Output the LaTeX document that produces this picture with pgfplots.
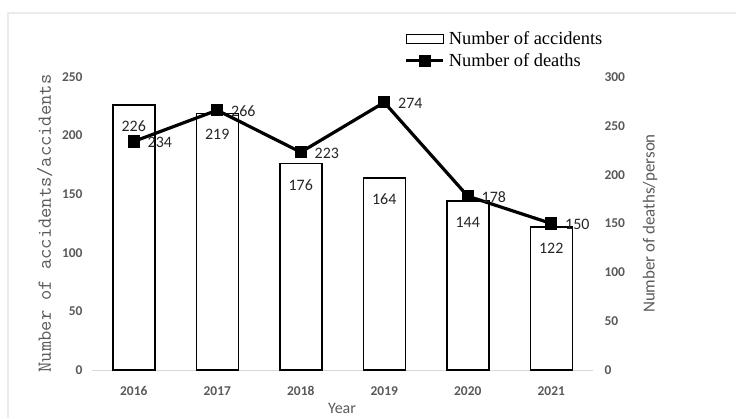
\documentclass[border=0pt]{standalone}
\usepackage{pgfplots}
\pgfplotsset{compat=1.18}
\usepackage{fontspec}
\setmainfont{Carlito}
\newfontfamily\legfont{Liberation Serif}
\definecolor{tickgray}{HTML}{595959}
\begin{document}
\begin{tikzpicture}[x=1bp,y=1bp]
\useasboundingbox (0,0) rectangle (736,418);
\draw[black!8, line width=1.5bp] (8,0) -- (8,405) -- (736,405);
\begin{axis}[
  at={(92bp,48bp)}, anchor=south west, scale only axis,
  width=501bp, height=293bp,
  xmin=-0.5, xmax=5.5, ymin=0, ymax=250,
  axis x line*=bottom, axis y line*=left,
  x axis line style={draw=black!15, line width=1bp, -},
  y axis line style={draw=none},
  major tick length=0pt, tick style={draw=none},
  xtick={0,1,2,3,4,5}, xticklabels={2016,2017,2018,2019,2020,2021},
  ytick={0,50,100,150,200,250},
  /pgf/number format/assume math mode=true,
  ticklabel style={font=\bfseries\fontsize{13.5}{15}\selectfont, text=tickgray},
  xticklabel style={yshift=-13bp},
  yticklabel style={xshift=-6bp},
  ylabel={Number of accidents/accidents},
  ylabel style={at={(axis description cs:-0.094,0.5)}, anchor=center, rotate=0,
    font=\ttfamily\fontsize{20}{22}\selectfont, text=tickgray},
  xlabel={Year},
  xlabel style={at={(axis description cs:0.499,-0.13)}, anchor=center,
    font=\fontsize{16}{18}\selectfont, text=tickgray},
  clip=false,
]
\addplot[ybar, bar width=42bp, fill=white, draw=black, line width=1.5bp,
  nodes near coords,
  nodes near coords style={font=\fontsize{16}{18}\selectfont, text=black!85, anchor=center, yshift=-21bp}]
  coordinates {(0,226) (1,219) (2,176) (3,164) (4,144) (5,122)};
\end{axis}
\begin{axis}[
  at={(92bp,48bp)}, anchor=south west, scale only axis,
  width=501bp, height=293bp,
  xmin=-0.5, xmax=5.5, ymin=0, ymax=300,
  axis y line*=right, axis x line=none,
  y axis line style={draw=none},
  major tick length=0pt, tick style={draw=none},
  ytick={0,50,100,150,200,250,300},
  /pgf/number format/assume math mode=true,
  ticklabel style={font=\bfseries\fontsize{13.5}{15}\selectfont, text=tickgray},
  yticklabel style={xshift=8bp},
  ylabel={Number of deaths/person},
  ylabel style={at={(axis description cs:1.114,0.5)}, anchor=center, rotate=0,
    font=\fontsize{17}{19}\selectfont, text=tickgray},
  legend style={at={(rel axis cs:0.624,1.158)}, anchor=north west, draw=none, fill=none,
    font=\legfont\fontsize{18.5}{21}\selectfont, row sep=5bp, inner sep=0pt,
    nodes={inner xsep=4bp, inner ysep=1bp}},
  legend cell align=left,
  clip=false,
]
\addlegendimage{legend image code/.code={\draw[black, line width=1.5bp, fill=white] (0bp,-4.5bp) rectangle (37bp,4.5bp);}}
\addlegendentry{Number of accidents}
\addplot[black, line width=3.2bp, mark=square*, mark size=4.5bp, mark options={solid},
  legend image code/.code={\draw[black, line width=3bp] (0bp,0bp) -- (37bp,0bp); \fill[black] (14bp,-4.5bp) rectangle (23bp,4.5bp);},
  nodes near coords,
  nodes near coords style={font=\fontsize{16}{18}\selectfont, text=black!85, anchor=west, xshift=9bp, yshift=-1bp}]
  coordinates {(0,234) (1,266) (2,223) (3,274) (4,178) (5,150)};
\addlegendentry{Number of deaths}
\end{axis}
\end{tikzpicture}
\end{document}
